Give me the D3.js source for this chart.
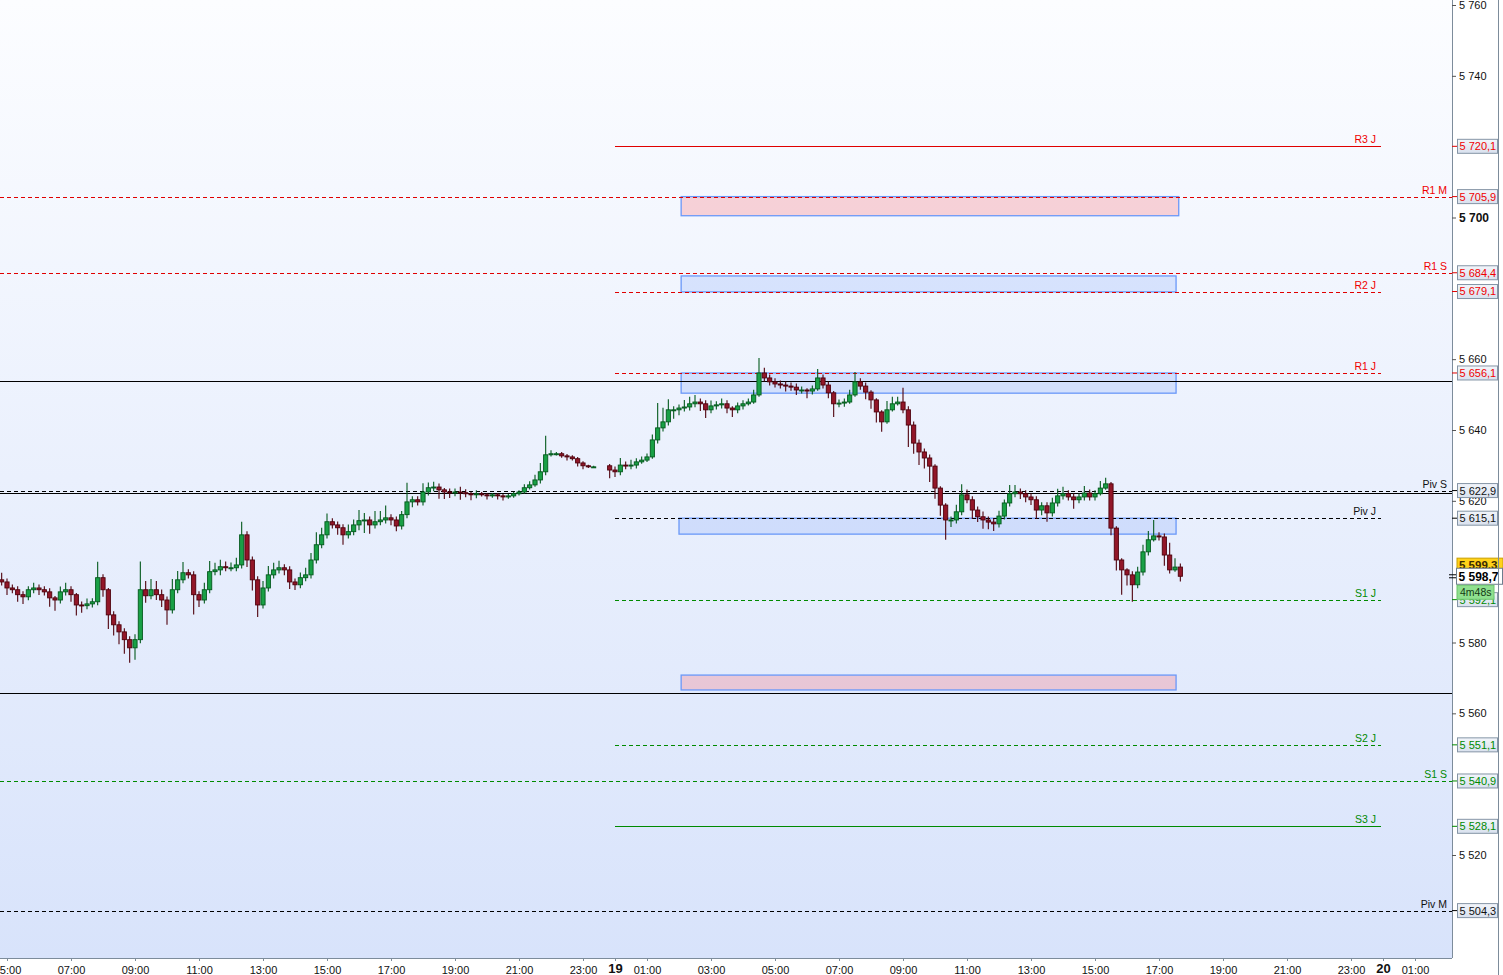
<!DOCTYPE html>
<html>
<head>
<meta charset="utf-8">
<script src="https://cdn.jsdelivr.net/npm/d3@7"></script>
<style>
  body { margin: 0; background: #fff; }
  svg { display: block; font-family: "Liberation Sans", Arial, sans-serif; }
</style>
</head>
<body>
<svg id="chart" width="1503" height="975"></svg>
<script>
// ---- data (10 min bars, open = previous close) ----
const s1Start = new Date(2021, 0, 18, 4, 50);
const s1Open = 5597.7;
const s1Close = [5597.1,5595.4,5594.9,5593.5,5592.9,5594.9,5595.4,5594.9,5594.3,5592.6,
  5592.0,5594.3,5594.9,5593.5,5590.6,5590.4,5590.9,5591.5,5598.3,5594.9,
  5587.8,5585.0,5583.0,5580.8,5578.5,5580.8,5594.9,5593.2,5594.9,5593.5,
  5592.0,5589.2,5594.9,5597.7,5599.7,5599.1,5593.5,5592.0,5594.9,5600.0,
  5600.5,5601.4,5601.1,5601.1,5601.9,5610.4,5603.3,5597.7,5590.6,5595.4,
  5599.1,5600.5,5601.1,5600.5,5597.1,5596.3,5598.3,5599.1,5603.3,5607.6,
  5610.4,5614.1,5613.2,5612.4,5610.4,5611.3,5613.2,5614.4,5614.6,5613.2,
  5614.1,5614.6,5615.2,5614.6,5612.9,5616.1,5619.7,5620.3,5619.7,5622.5,
  5623.7,5623.9,5623.1,5622.5,5622.3,5622.5,5622.3,5622.0,5621.7,5622.0,
  5621.7,5621.4,5621.7,5621.4,5621.1,5621.4,5622.0,5622.5,5623.7,5624.5,
  5625.9,5628.2,5633.0,5633.3,5633.3,5632.7,5632.4,5631.9,5630.7,5629.9,
  5629.6,5629.6];
const s1WickUp = [2,1,1,1,1,1,1.5,1,1,1, 0.5,1.5,2,1,0.5,1,1.5,1,4.5,1,
  0.5,1,1,1,1,1.5,8,2.5,3,2.5, 1.5,1,3,2.5,3,1,1,1,2,3,
  2,2,1.5,1.5,2,3.7,1,1,1,2, 2.5,2,2,1,1,1,1.5,2,2,3.5,
  2,2.3,1,1,1,2,1.5,3,2,1, 3,2.5,3.5,1,1,1,5.4,1,1,2.5,
  1.5,1.5,1,0.5,1,1,1.5,1,0.5,1, 0.5,0.5,0.5,0.5,0.5,0.5,0.5,0.5,1,1,
  1.5,2.5,5.4,1,0.5,0.5,0.5,0.5,0.5,0.5, 0.3,0.3];
const s1WickDn = [1,2,1,2,2,1,1,1.5,1,2.5, 3,1,1,2,3,2,1,1,1,2,
  4,3,3.5,4,4.2,3.4,1,2,1,1.5, 2,4.2,1,1,1,1,5.6,2,1,1,
  1,1.5,1,1,1,1,2,3,3.4,1, 1,1,1,1.5,2,1.5,1,1,1,1,
  1,1,1,2,2.8,1,1,1.5,3.5,2.5, 1,1,1,1.5,1.5,1,1,1.5,1,1,
  1,1,2.5,2,1.5,1,2,1,1.5,1, 0.5,1,0.5,1,1,0.5,0.5,0.5,0.5,0.5,
  0.5,1,1,0.5,0.5,0.5,1,0.5,1,1, 0.3,0.3];

const s2Start = new Date(2021, 0, 18, 23, 50);
const s2Open = 5629.9;
const s2Close = [5628.7,5628.2,5630.1,5629.9,5630.1,5631.0,5631.5,5632.4,5637.2,5640.6,
  5642.3,5645.7,5645.7,5646.2,5646.5,5647.4,5647.9,5647.4,5645.7,5646.8,
  5647.1,5647.4,5646.2,5645.7,5646.8,5647.4,5647.9,5649.9,5656.1,5654.7,
  5653.6,5653.0,5652.7,5652.4,5652.1,5651.3,5651.3,5651.0,5651.6,5654.7,
  5652.7,5650.5,5647.4,5647.6,5647.9,5649.9,5653.6,5652.4,5650.7,5648.5,
  5645.1,5642.3,5645.7,5647.4,5647.9,5645.7,5641.4,5636.3,5633.8,5632.1,
  5629.8,5623.6,5618.8,5614.6,5614.6,5616.9,5621.7,5620.3,5617.4,5615.5,
  5614.6,5614.0,5613.5,5615.7,5619.4,5622.0,5622.5,5622.0,5621.1,5620.3,
  5617.4,5618.6,5616.6,5619.4,5621.4,5622.0,5621.1,5620.3,5621.1,5622.2,
  5621.1,5622.0,5623.6,5624.8,5612.3,5603.3,5600.5,5599.1,5596.3,5599.9,
  5605.6,5609.0,5610.1,5609.8,5604.7,5600.5,5601.3,5598.7];
const s2WickUp = [0.5,1,2,1,1.5,1,1,1,1.5,7, 4,3,1,1,2,2,2,1,1,1.5,
  1,1.5,1,0.5,1,1,1,1.5,4.2,1.5, 1,1,1,1,1,1,1,0.5,1,2.5,
  1,1,0.5,1,1,1.5,2.8,1,1,0.5, 0.5,0.5,2.5,2,1.5,4,1,1,1,1,
  1,0.5,0.5,0.5,1,2,3,1.5,1,1, 1.5,1,1,1.5,1,2.5,2,1,1,1,
  1,1,1,1.5,2,2,1,1,1,2, 1,1,2,1.7,0.5,0.5,0.5,0.5,1,1.5,
  2,2.5,4.5,1,1,3.5,2.5,1];
const s2WickDn = [2.3,1.5,1,1,1,1,0.5,0.5,0.5,1, 1,1,2.5,1.5,1,1,1,2,2.3,1,
  1,1,1.5,2,1,1,0.5,0.5,0.5,1, 1,1,1,1.5,1,1.4,1,2,1,0.5,
  1,1.5,3.7,1,1,0.5,0.5,1,2,2.5, 3,2.8,0.5,0.5,0.5,1,6.2,3,3.7,3,
  4.5,3,3,5.6,2,1,1,1,2.5,1.5, 2.5,2,2,1,1,1,1,1.5,1.5,1.5,
  2.5,1.5,2.5,1,1,1,1,2.5,1,1, 1,1,0.5,0.5,2,3,7,3,4.8,1,
  1,1,0.5,1,3,1,0.5,1.5];

// pivot levels
const levelNames  = ["R3 J","R1 M","R1 S","R2 J","R1 J","Piv S","Piv J","S1 J","S2 J","S1 S","S3 J","Piv M"];
const levelValues = [5720.1, 5705.9, 5684.4, 5679.1, 5656.1, 5622.9, 5615.1, 5592.1, 5551.1, 5540.9, 5528.1, 5504.3];
// plain horizontal lines
const hLines = [5653.8, 5622.1, 5565.8];
// zones: start, end, top, bottom, kind
const zoneStart = [new Date(2021,0,19,2,4), new Date(2021,0,19,2,4), new Date(2021,0,19,2,4), new Date(2021,0,19,2,0), new Date(2021,0,19,2,4)];
const zoneEnd   = [new Date(2021,0,19,17,37), new Date(2021,0,19,17,32), new Date(2021,0,19,17,32), new Date(2021,0,19,17,32), new Date(2021,0,19,17,32)];
const zoneTop   = [5705.9, 5683.5, 5656.1, 5615.1, 5570.8];
const zoneBot   = [5700.5, 5679.0, 5650.4, 5610.6, 5566.6];
const zoneKind  = ["sell", "buy", "buy", "buy", "sell"];

const priceTicks = [5760, 5740, 5700, 5660, 5640, 5620, 5580, 5560, 5520];
const lastPrice = 5598.7, askPrice = 5599.3, countdown = "4m48s";

// ---- setup ----
const W = 1503, H = 975, plotW = 1452, plotH = 958;
const svg = d3.select("#chart");
const fr = d3.formatLocale({decimal: ",", thousands: " ", grouping: [3], currency: ["", "€"]});
const f0 = fr.format(",.0f"), f1 = fr.format(",.1f");

const x = d3.scaleTime()
  .domain([new Date(2021,0,18,4,46,52), new Date(2021,0,20,2,9,22)])
  .range([0, plotW]);
const y = d3.scaleLinear().domain([5520, 5760]).range([855, 5]);

function buildBars(start, open0, closes, up, dn) {
  return closes.map((c, i) => {
    const o = i === 0 ? open0 : closes[i - 1];
    return {t: d3.timeMinute.offset(start, i * 10), o, c,
            h: Math.max(o, c) + up[i], l: Math.min(o, c) - dn[i]};
  });
}
const bars = buildBars(s1Start, s1Open, s1Close, s1WickUp, s1WickDn)
  .concat(buildBars(s2Start, s2Open, s2Close, s2WickUp, s2WickDn));

// background
const defs = svg.append("defs");
const bg = defs.append("linearGradient").attr("id", "bg").attr("x1", 0).attr("y1", 0).attr("x2", 0).attr("y2", 1);
bg.append("stop").attr("offset", 0).attr("stop-color", "#fcfdff");
bg.append("stop").attr("offset", 1).attr("stop-color", "#d8e3fb");
const lb = defs.append("linearGradient").attr("id", "lbl").attr("x1", 0).attr("y1", 0).attr("x2", 0).attr("y2", 1);
lb.append("stop").attr("offset", 0).attr("stop-color", "#f2f5fa");
lb.append("stop").attr("offset", 1).attr("stop-color", "#d9e1ee");
defs.append("clipPath").attr("id", "plotclip").append("rect").attr("width", plotW).attr("height", plotH);

svg.append("rect").attr("width", W).attr("height", H).attr("fill", "#fff");
svg.append("rect").attr("width", plotW).attr("height", plotH).attr("fill", "url(#bg)");

const plot = svg.append("g").attr("clip-path", "url(#plotclip)");

// zones
plot.append("g").selectAll("rect")
  .data(zoneTop.map((t, i) => ({s: zoneStart[i], e: zoneEnd[i], t, b: zoneBot[i], k: zoneKind[i]})))
  .join("rect")
    .attr("x", d => x(d.s)).attr("y", d => y(d.t))
    .attr("width", d => x(d.e) - x(d.s)).attr("height", d => y(d.b) - y(d.t))
    .attr("fill", d => d.k === "sell" ? "rgba(250,90,100,0.25)" : "rgba(120,160,250,0.22)")
    .attr("stroke", "#6a98f8").attr("stroke-width", 1.3);

// level lines
const lvl = levelNames.map((n, i) => ({n, v: levelValues[i]}));
const lvlColor = d => d.n.startsWith("R") ? "#e00000" : d.n.startsWith("S") ? "#008a00" : "#000";
const isDaily = d => d.n.endsWith("J");
const day19 = new Date(2021,0,19), day20 = new Date(2021,0,20);

plot.append("g").selectAll("line").data(lvl).join("line")
  .attr("x1", d => isDaily(d) ? x(day19) : 0)
  .attr("x2", d => isDaily(d) ? x(day20) - 2 : plotW)
  .attr("y1", d => Math.round(y(d.v)) + 0.5).attr("y2", d => Math.round(y(d.v)) + 0.5)
  .attr("stroke", lvlColor).attr("stroke-width", 1)
  .attr("stroke-dasharray", d => (d.n === "R3 J" || d.n === "S3 J") ? null : "4,3");

plot.append("g").selectAll("text").data(lvl).join("text")
  .attr("x", d => isDaily(d) ? x(day20) - 7 : plotW - 5)
  .attr("y", d => y(d.v) - 3)
  .attr("text-anchor", "end").attr("font-size", 10.5)
  .attr("fill", d => d.n.startsWith("R") ? "#f00000" : d.n.startsWith("S") ? "#008a00" : "#111")
  .text(d => d.n);

plot.append("g").selectAll("line").data(hLines).join("line")
  .attr("x1", 0).attr("x2", plotW)
  .attr("y1", d => Math.round(y(d)) + 0.5).attr("y2", d => Math.round(y(d)) + 0.5)
  .attr("stroke", "#000").attr("stroke-width", 1.1);

// candles
const bw = (x(d3.timeMinute.offset(s1Start, 10)) - x(s1Start)) * 0.78;
const upStroke = "#03591c", dnStroke = "#4e000c";
const cg = plot.append("g").selectAll("g").data(bars).join("g");
cg.append("line")
  .attr("x1", d => x(d.t)).attr("x2", d => x(d.t))
  .attr("y1", d => y(d.h)).attr("y2", d => y(d.l))
  .attr("stroke", d => d.c >= d.o ? upStroke : dnStroke).attr("stroke-width", 1.1);
cg.append("rect")
  .attr("x", d => x(d.t) - bw / 2).attr("width", bw)
  .attr("y", d => y(Math.max(d.o, d.c)))
  .attr("height", d => Math.max(1, Math.abs(y(d.o) - y(d.c))))
  .attr("fill", d => d.c >= d.o ? "#19a046" : "#921628")
  .attr("stroke", d => d.c >= d.o ? upStroke : dnStroke).attr("stroke-width", 0.9);

// bottom axis
const timeTicks = d3.timeHour.range(new Date(2021,0,18,5), new Date(2021,0,20,2))
  .filter(d => d.getHours() % 2 === 1 || d.getHours() === 0);
const xAxis = d3.axisBottom(x).tickValues(timeTicks).tickSize(3)
  .tickFormat(d => d.getHours() === 0 ? d3.timeFormat("%d")(d) : d3.timeFormat("%H:%M")(d));
const gx = svg.append("g").attr("transform", `translate(0,${plotH})`).call(xAxis);
gx.select(".domain").attr("stroke", "#7d8c9b").attr("d", `M0,0.5H${plotW}`);
gx.selectAll(".tick line").attr("stroke", "#7d8c9b");
gx.selectAll(".tick text").attr("fill", "#111").attr("font-family", "Liberation Sans, Arial, sans-serif")
  .attr("font-size", d => d.getHours() === 0 ? 13 : 11)
  .attr("font-weight", d => d.getHours() === 0 ? "bold" : null)
  .attr("dy", d => d.getHours() === 0 ? "0.72em" : "0.88em");

// right axis
const yAxis = d3.axisRight(y).tickValues(priceTicks).tickSize(4).tickFormat(f0);
const gy = svg.append("g").attr("transform", `translate(${plotW},0)`).call(yAxis);
gy.select(".domain").attr("stroke", "#7d8c9b").attr("d", `M0.5,0V${plotH}`);
gy.selectAll(".tick line").attr("stroke", "#555");
gy.selectAll(".tick text").attr("fill", "#111").attr("x", 7)
  .attr("font-family", "Liberation Sans, Arial, sans-serif")
  .attr("font-size", d => d % 100 === 0 ? 12 : 11)
  .attr("font-weight", d => d % 100 === 0 ? "bold" : null);

// level price boxes
const lg = svg.append("g").selectAll("g").data(lvl).join("g")
  .attr("transform", d => `translate(${plotW},${y(d.v)})`);
lg.append("line").attr("x1", 0).attr("x2", 5).attr("stroke", lvlColor);
lg.append("rect").attr("x", 5.5).attr("y", -7).attr("width", 40).attr("height", 14)
  .attr("fill", "url(#lbl)").attr("stroke", "#8595a6");
lg.append("text").attr("x", 7.5).attr("dy", "0.36em").attr("font-size", 11)
  .attr("fill", d => d.n.startsWith("R") ? "#f00000" : d.n.startsWith("S") ? "#008a00" : "#111")
  .text(d => f1(d.v));

// live price labels
const ask = svg.append("g").attr("transform", `translate(${plotW},${y(askPrice) - 9})`);
ask.append("rect").attr("x", 5).attr("y", -7).attr("width", 46).attr("height", 14)
  .attr("fill", "#ffd21a").attr("stroke", "#c9a000");
ask.append("text").attr("x", 7).attr("dy", "0.36em").attr("font-size", 11.5).attr("font-weight", "bold")
  .attr("fill", "#3a2a00").text(f1(askPrice));

const last = svg.append("g").attr("transform", `translate(${plotW},${y(lastPrice)})`);
last.append("line").attr("x1", -3).attr("x2", 4).attr("y1", -1.5).attr("y2", -1.5).attr("stroke", "#000");
last.append("line").attr("x1", -3).attr("x2", 4).attr("y1", 1.5).attr("y2", 1.5).attr("stroke", "#000");
last.append("rect").attr("x", 4.5).attr("y", -8).attr("width", 46).attr("height", 16)
  .attr("fill", "#fff").attr("stroke", "#6d7d8e");
last.append("text").attr("x", 6.5).attr("dy", "0.38em").attr("font-size", 12).attr("font-weight", "bold")
  .attr("fill", "#000").text(f1(lastPrice));

const cd = svg.append("g").attr("transform", `translate(${plotW},${y(lastPrice) + 16})`);
cd.append("rect").attr("x", 5).attr("y", -7).attr("width", 37).attr("height", 14)
  .attr("fill", "#8fe08f").attr("stroke", "#6cc56c");
cd.append("text").attr("x", 8).attr("dy", "0.36em").attr("font-size", 10.5)
  .attr("fill", "#143814").text(countdown);

// outer right border
svg.append("line").attr("x1", 1498.5).attr("x2", 1498.5).attr("y1", 0).attr("y2", H)
  .attr("stroke", "#7d8c9b");
</script>
</body>
</html>
